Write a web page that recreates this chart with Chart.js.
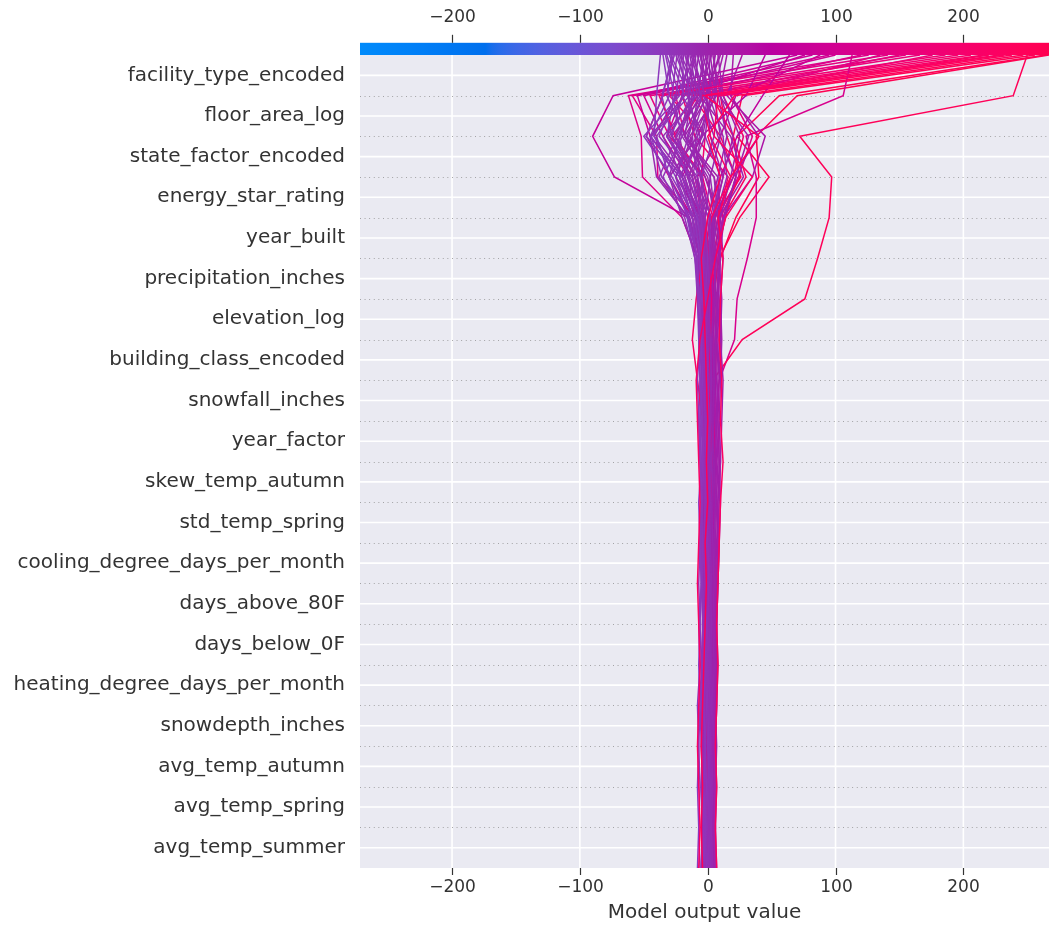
<!DOCTYPE html>
<html>
<head>
<meta charset="utf-8">
<script src="https://cdn.jsdelivr.net/npm/chart.js@4.4.1/dist/chart.umd.min.js"></script>
<style>
  html, body { margin: 0; padding: 0; background: #ffffff; }
  #wrap { width: 1049px; height: 926px; }
</style>
</head>
<body>
<div id="wrap"><canvas id="c" width="1049" height="926"></canvas></div>
<script>
// Feature names, from the top row to the bottom row
const features = [
  'facility_type_encoded', 'floor_area_log', 'state_factor_encoded', 'energy_star_rating',
  'year_built', 'precipitation_inches', 'elevation_log', 'building_class_encoded',
  'snowfall_inches', 'year_factor', 'skew_temp_autumn', 'std_temp_spring',
  'cooling_degree_days_per_month', 'days_above_80F', 'days_below_0F',
  'heating_degree_days_per_month', 'snowdepth_inches', 'avg_temp_autumn',
  'avg_temp_spring', 'avg_temp_summer'
];
const xTicks = [-200, -100, 0, 100, 200];
const xMin = -272;
const xMax = 267;

// Cumulative model output per observation at each feature boundary,
// listed from the top (final prediction) down to the bottom of the plot.
const obs_r01 = [250, 239, 72, 97, 95, 86, 76, 27, 4, 3, 5, 6, 4, 5, 3, 4, 2, 3, 2, 3, 2];
const obs_r02 = [267, 70, 38, 40, 22, 10, 8, 6, 5, 4, 5, 5, 4, 4, 5, 3, 4, 3, 4, 3, 3];
const obs_r03 = [264, 56, 23, 48, 25, 9, 4, 3, 2, 3, 4, 3, 2, 2, 3, 2, 3, 2, 2, 1, 2];
const obs_r04 = [256, 27, 20, 25, 10, 4, 2, 2, 3, 2, 1, 2, 1, 2, 1, 0, 1, 0, 1, 0, 0];
const obs_r05 = [247, 21, 0, 10, 0, -5, -3, -2, -1, 0, -1, 0, -2, -1, -2, -3, -4, -5, -4, -5, -4];
const obs_r06 = [238, 10, 15, 26, 5, -2, 0, 1, 2, 0, 1, 2, 3, 1, 0, 1, 2, 3, 2, 3, 2];
const obs_r07 = [228, 3, 20, 30, 12, 8, 5, 7, 6, 5, 6, 4, 5, 6, 4, 5, 4, 5, 4, 5, 4];
const obs_r08 = [216, -5, 2, 18, 3, -4, -9, -12, -8, -4, -2, 0, -1, 0, 1, 0, -1, 0, -1, 0, 0];
const obs_r09 = [206, -12, 10, 22, 14, 6, 3, 4, 3, 4, 3, 4, 3, 4, 2, 3, 2, 3, 2, 3, 2];
const obs_r10 = [196, -20, -10, 16, 8, 2, 1, 2, 0, 1, 0, 1, 0, -1, 0, -1, 0, -1, 0, -1, 0];
const obs_r11 = [186, -30, -2, -5, 2, -3, -2, -1, 0, -1, 0, 1, 0, 1, 0, 1, 0, 1, 0, 1, 1];
const obs_r12 = [176, 12, 28, 20, 6, 4, 2, 3, 4, 3, 2, 3, 4, 3, 4, 5, 4, 5, 4, 5, 4];
const obs_r13 = [166, -38, -25, -10, -2, 1, 3, 2, 1, 2, 3, 2, 1, 2, 1, 2, 1, 2, 1, 2, 1];
const obs_r14 = [155, -45, -30, -2, 10, 5, 6, 4, 5, 6, 5, 6, 5, 6, 5, 4, 5, 4, 5, 4, 5];
const obs_r15 = [141, -59, -40, -39, -10, -2, 0, -1, 0, -1, 0, -1, 0, -1, -2, -1, -2, -1, -2, -1, -2];
const obs_r16 = [126, -62, -52, -51, -20, -8, -2, -3, -2, -1, -2, -1, -2, -1, -2, -1, -2, -1, -2, -1, -1];
const obs_r17 = [113, 106, 30, 38, 38, 31, 23, 21, 9, 6, 5, 4, 5, 6, 5, 4, 5, 4, 5, 4, 4];
const obs_r18 = [70, -74, -90, -73, -15, -8, -6, -5, -4, -3, -4, -2, -3, -4, -3, -2, -3, -4, -3, -2, -3];
const obs_r19 = [64, 43, 23, 10, 4, 0, -2, -1, 0, 1, 0, 1, 2, 1, 2, 1, 0, 1, 0, 1, 0];
const obs_r20 = [95, -50, -35, -15, -5, 0, 2, 1, 2, 3, 2, 1, 2, 1, 2, 3, 2, 3, 2, 3, 2];
const obs_r21 = [45, 30, -5, -20, -10, -4, -2, -3, -2, -1, 0, -1, 0, -1, 0, -1, -2, -1, -2, -1, -2];
const obs_r22 = [82, -55, -45, -20, -5, 2, 1, 0, 1, 0, 1, 2, 1, 2, 1, 2, 1, 2, 3, 2, 3];
const obs_r23 = [232, -2, 40, 18, 8, 12, 10, 9, 11, 10, 12, 10, 9, 8, 7, 8, 7, 6, 7, 6, 7];
const obs_r24 = [220, 8, 5, 35, 14, 6, 0, -6, -9, -8, -7, -6, -7, -8, -7, -6, -7, -8, -7, -6, -7];
const obs_r25 = [100, -35, -48, -30, -12, -4, -2, -1, 0, -1, 0, 1, 0, -1, 0, -1, 0, 1, 0, 1, 0];
const obs_r26 = [120, -25, -18, 5, 12, 6, 4, 3, 4, 3, 4, 3, 2, 3, 2, 3, 4, 3, 4, 3, 4];
const obs_r27 = [135, 18, 35, 24, 8, 2, 1, 0, 1, 2, 1, 0, 1, 0, -1, 0, 1, 0, 1, 0, 1];
const obs_r28 = [150, -8, -26, -4, 4, 2, 0, -2, -1, 0, -1, 0, 1, 2, 1, 0, 1, 0, -1, 0, -1];
const obs_r29 = [88, 22, 10, -8, -6, -3, -1, 0, 1, 2, 1, 2, 1, 2, 3, 2, 3, 2, 3, 2, 3];
const obs_r30 = [76, -20, -32, -12, -3, -1, 0, 1, 0, 1, 0, -1, 0, -1, 0, -1, 0, 1, 0, 1, 0];

const obs_b01 = [-35, -30, -45, -20, -8, -4, -6, -5, -4, -6, -5, -7, -6, -5, -7, -6, -8, -7, -6, -7, -6];
const obs_b02 = [-32, -22, -50, -28, -10, -6, -5, -7, -6, -5, -4, -5, -6, -7, -6, -5, -6, -5, -4, -5, -4];
const obs_b03 = [-30, -18, -40, -30, -15, -8, -7, -6, -8, -7, -6, -5, -4, -5, -4, -3, -4, -5, -4, -3, -4];
const obs_b04 = [-28, -35, -48, -22, -12, -9, -8, -6, -5, -4, -3, -4, -5, -4, -3, -4, -3, -2, -3, -2, -3];
const obs_b05 = [-25, -12, -30, -15, -5, -3, -4, -2, -3, -2, -1, -2, -3, -2, -1, -2, -3, -2, -1, -2, -1];
const obs_b06 = [-24, -28, -20, -35, -18, -10, -6, -4, -3, -4, -3, -2, -3, -4, -3, -2, -1, -2, -1, -2, -1];
const obs_b07 = [-22, -10, -25, -10, -2, 0, -2, -1, 0, 1, 0, -1, 0, 1, 0, -1, 0, 1, 0, -1, 0];
const obs_b08 = [-20, -25, -38, -12, -6, -5, -3, -4, -3, -2, -3, -2, -1, -2, -1, 0, -1, 0, 1, 0, 1];
const obs_b09 = [-18, -5, -15, -25, -12, -4, -2, -3, -2, -1, -2, -1, 0, -1, 0, 1, 0, 1, 2, 1, 2];
const obs_b10 = [-17, -15, -8, -18, -8, -3, -1, -2, -1, 0, -1, 0, 1, 0, 1, 2, 1, 2, 1, 2, 1];
const obs_b11 = [-15, -20, -28, -5, 2, 1, 0, -1, 0, 1, 2, 1, 2, 1, 0, 1, 2, 1, 2, 3, 2];
const obs_b12 = [-14, -8, -35, -20, -4, -2, -1, 0, 1, 0, 1, 2, 1, 2, 3, 2, 3, 2, 3, 2, 3];
const obs_b13 = [-12, -2, -12, -8, 0, 2, 1, 2, 3, 2, 3, 2, 1, 2, 1, 2, 1, 0, 1, 0, 1];
const obs_b14 = [-11, -14, -22, -30, -14, -6, -4, -3, -4, -3, -2, -3, -2, -3, -2, -3, -2, -3, -2, -3, -2];
const obs_b15 = [-10, -6, 5, -5, -3, -1, 0, 1, 0, -1, 0, 1, 2, 3, 2, 3, 4, 3, 4, 3, 4];
const obs_b16 = [-9, -18, -45, -40, -15, -6, -3, -2, -1, -2, -1, -2, -1, -2, -3, -2, -3, -2, -3, -2, -3];
const obs_b17 = [-8, 0, -5, -12, -6, -2, 2, 3, 2, 3, 4, 3, 4, 5, 4, 5, 4, 5, 6, 5, 6];
const obs_b18 = [-7, -12, -18, 5, 8, 3, 2, 3, 2, 1, 2, 3, 2, 3, 2, 3, 2, 3, 2, 3, 2];
const obs_b19 = [-6, 2, -2, -15, -10, -5, -3, -4, -5, -4, -3, -4, -3, -2, -3, -4, -3, -4, -5, -4, -5];
const obs_b20 = [-5, -3, -20, 0, 5, 2, 1, 0, 1, 2, 1, 2, 1, 0, -1, 0, -1, 0, -1, 0, -1];
const obs_b21 = [-4, 5, 10, 2, -2, -4, -3, -2, -1, -2, -1, 0, 1, 0, 1, 0, 1, 2, 1, 2, 1];
const obs_b22 = [-3, -8, -12, -25, -5, 4, 3, 4, 5, 4, 5, 6, 5, 6, 5, 6, 5, 6, 5, 6, 5];
const obs_b23 = [-2, 8, 15, 8, 0, -3, -2, -3, -2, -3, -4, -3, -4, -3, -2, -1, -2, -1, -2, -1, -2];
const obs_b24 = [0, -4, -28, -10, 3, 6, 5, 6, 5, 4, 5, 4, 3, 4, 3, 4, 5, 4, 5, 4, 5];
const obs_b25 = [2, 6, -8, -30, -20, -8, -5, -4, -3, -2, -3, -2, -1, -2, -1, -2, -1, -2, -1, -2, -1];
const obs_b26 = [4, 10, 20, 12, 5, 2, 1, 2, 3, 4, 3, 4, 3, 2, 3, 2, 3, 2, 3, 4, 3];
const obs_b27 = [6, 0, -18, 8, 10, 7, 8, 9, 8, 7, 8, 7, 6, 7, 6, 5, 6, 5, 6, 5, 6];
const obs_b28 = [8, 12, 25, 18, 10, 12, 10, 11, 10, 9, 10, 8, 9, 8, 7, 6, 7, 6, 5, 6, 5];
const obs_b29 = [10, -2, 8, 22, 13, 9, 11, 10, 12, 11, 10, 9, 8, 7, 6, 7, 6, 7, 6, 5, 6];
const obs_b30 = [12, 4, -10, -6, 2, 5, 7, 6, 5, 6, 7, 6, 5, 4, 5, 4, 3, 4, 3, 4, 3];
const obs_b31 = [15, 9, 32, 22, 12, 8, 9, 10, 9, 8, 9, 10, 9, 8, 7, 8, 7, 6, 7, 6, 7];
const obs_b32 = [20, 18, 40, 20, 5, 3, 4, 5, 6, 5, 4, 5, 4, 3, 4, 3, 4, 3, 4, 3, 4];
const obs_b33 = [27, 15, 45, 35, 12, 6, 5, 4, 3, 4, 3, 4, 5, 4, 5, 4, 5, 4, 5, 4, 5];
const obs_b34 = [-37, -40, -42, -25, -16, -10, -8, -7, -6, -7, -6, -5, -6, -5, -6, -7, -6, -7, -8, -7, -8];
const obs_b35 = [-33, -26, -32, -8, -3, -6, -5, -4, -5, -6, -5, -4, -5, -4, -3, -4, -5, -4, -5, -4, -5];
const obs_b36 = [-29, -14, -44, -36, -12, -7, -4, -5, -4, -3, -4, -3, -2, -3, -4, -3, -2, -3, -2, -1, -2];
const obs_b37 = [-27, -32, -18, -4, -8, -2, -3, -1, -2, -1, 0, 1, 0, -1, 0, 1, 0, -1, 0, 1, 0];
const obs_b38 = [-23, -16, -6, -22, -9, -5, -2, 0, 1, 0, -1, 0, -1, -2, -1, -2, -3, -2, -3, -2, -3];
const obs_b39 = [-21, -6, -24, -38, -16, -8, -6, -4, -2, -3, -2, -3, -4, -3, -4, -5, -4, -3, -4, -3, -4];
const obs_b40 = [-19, -20, -2, 10, 4, 0, -1, 1, 2, 1, 2, 1, 0, 1, 2, 1, 0, 1, 0, 1, 0];
const obs_b41 = [-16, -10, -32, -14, 1, 3, 2, 1, 0, 1, 0, -1, 0, -1, 0, 1, 2, 1, 2, 1, 2];
const obs_b42 = [-13, -4, -16, 2, 6, 4, 3, 2, 3, 4, 3, 2, 3, 2, 1, 2, 1, 2, 1, 0, 1];
const obs_b43 = [-10, -24, -42, -18, -7, -4, -2, -3, -2, -3, -2, -1, -2, -1, 0, -1, 0, -1, 0, -1, -1];
const obs_b44 = [-6, 1, 12, 15, 6, 1, -1, -2, -1, 0, 1, 0, 1, 2, 1, 2, 3, 2, 3, 2, 3];
const obs_b45 = [-1, -10, -22, -16, -4, 1, 2, 3, 4, 3, 4, 5, 4, 3, 4, 3, 4, 3, 2, 3, 2];
const obs_b46 = [1, 2, -4, -22, -12, -6, -3, -1, 0, -1, 0, -1, 0, 1, 0, 1, 0, 1, 0, 1, 0];
const obs_b47 = [3, -6, 18, 28, 9, 5, 6, 8, 7, 8, 9, 8, 7, 6, 7, 6, 5, 6, 5, 6, 5];
const obs_b48 = [5, 7, -14, -2, 8, 10, 8, 7, 6, 7, 6, 7, 8, 7, 6, 7, 6, 5, 6, 5, 6];
const obs_b49 = [9, -1, 2, 12, 4, 0, 2, 1, 2, 1, 2, 3, 2, 3, 2, 1, 2, 1, 2, 1, 2];
const obs_b50 = [-26, -36, -28, -10, -4, -2, 0, -1, 0, 1, 0, 1, 0, 1, 0, -1, 0, -1, 0, -1, 0];

// Listed in drawing priority: the first entries end up on top
const observations = [
  obs_r24, obs_r23, obs_r05,
  obs_b01, obs_b02, obs_b03, obs_b04, obs_b05, obs_b06, obs_b07, obs_b08,
  obs_b09, obs_b10, obs_b11, obs_b12, obs_b13, obs_b14, obs_b15, obs_b16,
  obs_r08, obs_r13,
  obs_b17, obs_b18, obs_b19, obs_b20, obs_b21, obs_b22, obs_b23, obs_b24,
  obs_b25, obs_b26, obs_b27, obs_b28, obs_b29, obs_b30, obs_b31, obs_b32,
  obs_b33, obs_b34, obs_b35, obs_b36, obs_b37, obs_b38, obs_b39, obs_b40,
  obs_b41, obs_b42, obs_b43, obs_b44, obs_b45, obs_b46, obs_b47, obs_b48,
  obs_b49, obs_b50,
  obs_r01, obs_r18, obs_r17, obs_r19, obs_r21, obs_r20, obs_r22, obs_r29,
  obs_r30, obs_r25, obs_r26, obs_r27, obs_r28, obs_r02, obs_r03, obs_r04,
  obs_r06, obs_r07, obs_r09, obs_r10, obs_r11, obs_r12,
  obs_r14, obs_r15, obs_r16
];

// ---- red/blue colour map interpolated in LCH space ----
function lch2rgb(l, c, h) {
  const a = c * Math.cos(h), b = c * Math.sin(h);
  const fy = (l + 16) / 116, fx = fy + a / 500, fz = fy - b / 200;
  const inv = t => (t > 0.2068966 ? t * t * t : (t - 16 / 116) / 7.787);
  const X = 0.95047 * inv(fx), Y = inv(fy), Z = 1.08883 * inv(fz);
  let r = 3.2406 * X - 1.5372 * Y - 0.4986 * Z;
  let g = -0.9689 * X + 1.8758 * Y + 0.0415 * Z;
  let bl = 0.0557 * X - 0.2040 * Y + 1.0570 * Z;
  const gam = v => (v > 0.0031308 ? 1.055 * Math.pow(v, 1 / 2.4) - 0.055 : 12.92 * v);
  return [r, g, bl].map(v => Math.round(255 * Math.min(1, Math.max(0, gam(v)))));
}
const cmapSteps = (() => {
  const n = 100, out = [];
  const blue = [54, 70, 4.6588], red = [54, 90, 0.35470565 + 2 * Math.PI], lMid = 40;
  for (let i = 0; i < n; i++) {
    const l = i < n / 2 ? blue[0] + (lMid - blue[0]) * i / (n / 2 - 1)
                        : lMid + (red[0] - lMid) * (i - n / 2) / (n / 2 - 1);
    const c = blue[1] + (red[1] - blue[1]) * i / (n - 1);
    const h = blue[2] + (red[2] - blue[2]) * i / (n - 1);
    out.push(lch2rgb(l, c, h));
  }
  return out;
})();
function cmap(t) {
  t = Math.min(1, Math.max(0, t));
  const p = t * (cmapSteps.length - 1), i = Math.min(cmapSteps.length - 2, Math.floor(p)), f = p - i;
  const a = cmapSteps[i], b = cmapSteps[i + 1];
  return `rgb(${Math.round(a[0] + (b[0] - a[0]) * f)},${Math.round(a[1] + (b[1] - a[1]) * f)},${Math.round(a[2] + (b[2] - a[2]) * f)})`;
}

const nRows = features.length;
const datasets = observations.map(vals => ({
  data: vals.map((v, i) => ({ x: v, y: nRows - i })),
  borderColor: cmap((vals[0] - xMin) / (xMax - xMin)),
  borderWidth: 1.5,
  pointRadius: 0,
  showLine: true,
  tension: 0,
  fill: false
}));

const FONT = '"DejaVu Sans", "Liberation Sans", sans-serif';
const TEXT = '#333333';

const decisionFrame = {
  id: 'decisionFrame',
  beforeDraw(chart) {
    const { ctx, chartArea: a, scales: { x, y } } = chart;
    ctx.save();
    ctx.fillStyle = '#ffffff';
    ctx.fillRect(0, 0, chart.width, chart.height);
    ctx.fillStyle = '#eaeaf2';
    ctx.fillRect(a.left, a.top, a.right - a.left, a.bottom - a.top);
    // white grid: vertical at ticks, horizontal at each feature row
    ctx.strokeStyle = '#ffffff';
    ctx.lineWidth = 1.6;
    xTicks.forEach(t => {
      const px = x.getPixelForValue(t);
      ctx.beginPath(); ctx.moveTo(px, a.top); ctx.lineTo(px, a.bottom); ctx.stroke();
    });
    for (let i = 0; i < nRows; i++) {
      const py = y.getPixelForValue(i + 0.5);
      ctx.beginPath(); ctx.moveTo(a.left, py); ctx.lineTo(a.right, py); ctx.stroke();
    }
    // dotted separators at feature boundaries
    ctx.strokeStyle = 'rgba(136,136,136,0.9)';
    ctx.lineWidth = 0.9;
    ctx.setLineDash([0.9, 3.7]);
    for (let i = 1; i < nRows; i++) {
      const py = Math.round(y.getPixelForValue(i)) + 0.5;
      ctx.beginPath(); ctx.moveTo(a.left, py); ctx.lineTo(a.right, py); ctx.stroke();
    }
    ctx.restore();
  },
  afterDatasetsDraw(chart) {
    const { ctx, chartArea: a, scales: { x, y } } = chart;
    ctx.save();
    // colour bar above the plot
    const barH = 12.2;
    const grad = ctx.createLinearGradient(a.left, 0, a.right, 0);
    cmapSteps.forEach((c, i) => grad.addColorStop(i / (cmapSteps.length - 1), `rgb(${c[0]},${c[1]},${c[2]})`));
    ctx.fillStyle = grad;
    ctx.fillRect(a.left, a.top - barH, a.right - a.left, barH);

    // ticks and labels, top and bottom
    ctx.strokeStyle = TEXT;
    ctx.lineWidth = 1.2;
    ctx.fillStyle = TEXT;
    ctx.font = `17px ${FONT}`;
    ctx.textAlign = 'center';
    ctx.textBaseline = 'middle';
    xTicks.forEach(t => {
      const px = Math.round(x.getPixelForValue(t)) + 0.5;
      const label = t < 0 ? '\u2212' + Math.abs(t) : String(t);
      ctx.beginPath(); ctx.moveTo(px, a.top - barH - 8); ctx.lineTo(px, a.top - barH); ctx.stroke();
      ctx.fillText(label, px, 18);
      ctx.beginPath(); ctx.moveTo(px, a.bottom); ctx.lineTo(px, a.bottom + 7); ctx.stroke();
      ctx.fillText(label, px, a.bottom + 20);
    });
    ctx.font = `20px ${FONT}`;
    ctx.fillText('Model output value', (a.left + a.right) / 2, 913);

    // feature names
    ctx.textAlign = 'right';
    features.forEach((f, i) => {
      ctx.fillText(f, a.left - 15, y.getPixelForValue(nRows - i - 0.5));
    });
    ctx.restore();
  }
};

new Chart(document.getElementById('c'), {
  type: 'scatter',
  data: { datasets },
  options: {
    responsive: false,
    animation: false,
    devicePixelRatio: 1,
    layout: { padding: { left: 360, top: 55, right: 0, bottom: 58 } },
    plugins: { legend: { display: false }, tooltip: { enabled: false } },
    scales: {
      x: { type: 'linear', min: xMin, max: xMax, display: false },
      y: { type: 'linear', min: 0, max: nRows, display: false }
    }
  },
  plugins: [decisionFrame]
});
</script>
</body>
</html>
